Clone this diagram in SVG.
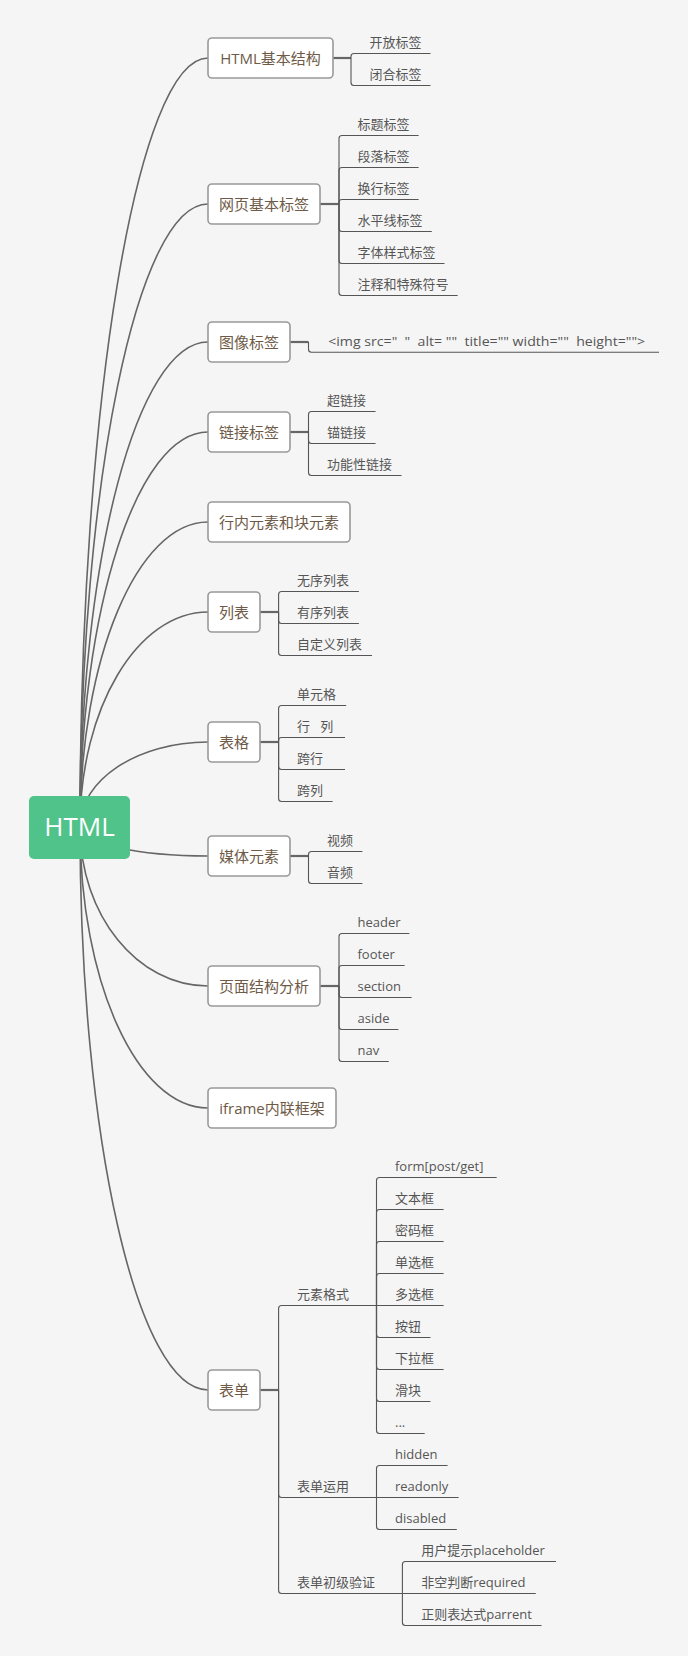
<svg xmlns="http://www.w3.org/2000/svg" width="688" height="1656" viewBox="0 0 688 1656">
<style>
.curve{fill:none;stroke:#666;stroke-width:1.6}
.stem{fill:none;stroke:#666;stroke-width:2.2}
.sub{fill:none;stroke:#555;stroke-width:1.1}
.box{fill:#fff;stroke:#999;stroke-width:1.6}
.t1{font-family:"Open Sans","Noto Sans CJK SC",sans-serif;font-size:15px;fill:#6e5a46;text-anchor:middle}
.t2{font-family:"Open Sans","Noto Sans CJK SC",sans-serif;font-size:13px;fill:#555}
.root{fill:#4fc38a}
.rt{font-family:"Open Sans","Noto Sans CJK SC",sans-serif;font-size:26px;fill:#fff;text-anchor:middle}
</style>
<rect x="0" y="0" width="688" height="1656" fill="#f5f5f5"/>
<g id="connectors">
<path class="curve" d="M80,827 C80,402.5 137.3,58 208,58"/>
<path class="curve" d="M80,827 C80,483.1 137.3,204 208,204"/>
<path class="curve" d="M80,827 C80,559.3 137.3,342 208,342"/>
<path class="curve" d="M80,827 C80,609 137.3,432 208,432"/>
<path class="curve" d="M80,827 C80,658.6 137.3,522 208,522"/>
<path class="curve" d="M80,827 C80,708.3 137.3,612 208,612"/>
<path class="curve" d="M80,827 C80,780.1 137.3,742 208,742"/>
<path class="curve" d="M80,827 C80,843 137.3,856 208,856"/>
<path class="curve" d="M80,827 C80,914.8 137.3,986 208,986"/>
<path class="curve" d="M80,827 C80,982.1 137.3,1108 208,1108"/>
<path class="curve" d="M80,827 C80,1137.8 137.3,1390 208,1390"/>
<!-- HTML基本结构 -->
<path class="stem" d="M333,58 H351"/>
<path class="sub" d="M351,58 V56.5 Q351,53.5 354,53.5 H430.5"/>
<path class="sub" d="M351,58 V82.5 Q351,85.5 354,85.5 H430.5"/>
<!-- 网页基本标签 -->
<path class="stem" d="M320,204 H339"/>
<path class="sub" d="M339,204 V138.5 Q339,135.5 342,135.5 H418.6"/>
<path class="sub" d="M339,204 V170.5 Q339,167.5 342,167.5 H418.6"/>
<path class="sub" d="M339,204 V202.5 Q339,199.5 342,199.5 H418.6"/>
<path class="sub" d="M339,204 V228.5 Q339,231.5 342,231.5 H431.8"/>
<path class="sub" d="M339,204 V260.5 Q339,263.5 342,263.5 H444.5"/>
<path class="sub" d="M339,204 V292.5 Q339,295.5 342,295.5 H457.7"/>
<!-- 图像标签 -->
<path class="stem" d="M290,342 H308.5"/>
<path class="sub" d="M308.5,342 V349.3 Q308.5,352.3 311.5,352.3 H659"/>
<!-- 链接标签 -->
<path class="stem" d="M290,432 H308.5"/>
<path class="sub" d="M308.5,432 V414.5 Q308.5,411.5 311.5,411.5 H375.6"/>
<path class="sub" d="M308.5,432 V440.5 Q308.5,443.5 311.5,443.5 H375.6"/>
<path class="sub" d="M308.5,432 V472.5 Q308.5,475.5 311.5,475.5 H401.5"/>
<!-- 列表 -->
<path class="stem" d="M260,612 H278.6"/>
<path class="sub" d="M278.6,612 V594.5 Q278.6,591.5 281.6,591.5 H358.9"/>
<path class="sub" d="M278.6,612 V620.5 Q278.6,623.5 281.6,623.5 H358.9"/>
<path class="sub" d="M278.6,612 V652.5 Q278.6,655.5 281.6,655.5 H372"/>
<!-- 表格 -->
<path class="stem" d="M260,742 H278.6"/>
<path class="sub" d="M278.6,742 V708.5 Q278.6,705.5 281.6,705.5 H346.2"/>
<path class="sub" d="M278.6,742 V740.5 Q278.6,737.5 281.6,737.5 H345"/>
<path class="sub" d="M278.6,742 V766.5 Q278.6,769.5 281.6,769.5 H345"/>
<path class="sub" d="M278.6,742 V798.5 Q278.6,801.5 281.6,801.5 H332.6"/>
<!-- 媒体元素 -->
<path class="stem" d="M290,856 H308.5"/>
<path class="sub" d="M308.5,856 V854.5 Q308.5,851.5 311.5,851.5 H362.4"/>
<path class="sub" d="M308.5,856 V880.5 Q308.5,883.5 311.5,883.5 H362.4"/>
<!-- 页面结构分析 -->
<path class="stem" d="M320,986 H339"/>
<path class="sub" d="M339,986 V936.5 Q339,933.5 342,933.5 H409.4"/>
<path class="sub" d="M339,986 V968.5 Q339,965.5 342,965.5 H404.6"/>
<path class="sub" d="M339,986 V994.5 Q339,997.5 342,997.5 H411.6"/>
<path class="sub" d="M339,986 V1026.5 Q339,1029.5 342,1029.5 H398.4"/>
<path class="sub" d="M339,986 V1058.5 Q339,1061.5 342,1061.5 H388.8"/>
<!-- 表单 -->
<path class="stem" d="M260,1390 H278.6"/>
<path class="sub" d="M278.6,1390 V1308.5 Q278.6,1305.5 281.6,1305.5 H376.5"/>
<path class="sub" d="M278.6,1390 V1494.5 Q278.6,1497.5 281.6,1497.5 H376.5"/>
<path class="sub" d="M278.6,1390 V1590.5 Q278.6,1593.5 281.6,1593.5 H402.4"/>
<!-- 元素格式 -->
<path class="sub" d="M376.5,1305.5 V1180.5 Q376.5,1177.5 379.5,1177.5 H496.7"/>
<path class="sub" d="M376.5,1305.5 V1212.5 Q376.5,1209.5 379.5,1209.5 H443.6"/>
<path class="sub" d="M376.5,1305.5 V1244.5 Q376.5,1241.5 379.5,1241.5 H443.6"/>
<path class="sub" d="M376.5,1305.5 V1276.5 Q376.5,1273.5 379.5,1273.5 H443.6"/>
<path class="sub" d="M376.5,1305.5 H443.6"/>
<path class="sub" d="M376.5,1305.5 V1334.5 Q376.5,1337.5 379.5,1337.5 H430.5"/>
<path class="sub" d="M376.5,1305.5 V1366.5 Q376.5,1369.5 379.5,1369.5 H443.6"/>
<path class="sub" d="M376.5,1305.5 V1398.5 Q376.5,1401.5 379.5,1401.5 H430.5"/>
<path class="sub" d="M376.5,1305.5 V1430.5 Q376.5,1433.5 379.5,1433.5 H424.7"/>
<!-- 表单运用 -->
<path class="sub" d="M376.5,1497.5 V1468.5 Q376.5,1465.5 379.5,1465.5 H447.6"/>
<path class="sub" d="M376.5,1497.5 H458.6"/>
<path class="sub" d="M376.5,1497.5 V1526.5 Q376.5,1529.5 379.5,1529.5 H456.8"/>
<!-- 表单初级验证 -->
<path class="sub" d="M402.4,1593.5 V1564.5 Q402.4,1561.5 405.4,1561.5 H556"/>
<path class="sub" d="M402.4,1593.5 H535.8"/>
<path class="sub" d="M402.4,1593.5 V1622.5 Q402.4,1625.5 405.4,1625.5 H541.5"/>
</g>
<g id="root"><rect class="root" x="29" y="796" width="101" height="63" rx="5"/><text class="rt" x="79.5" y="836">HTML</text></g>
<g id="n-html-structure"><rect class="box" x="208" y="38" width="125" height="40" rx="4"/><text class="t1" x="270.5" y="63.5">HTML基本结构</text></g>
<g id="n-open"><text class="t2" x="369.5" y="47">开放标签</text></g>
<g id="n-close"><text class="t2" x="369.5" y="79">闭合标签</text></g>
<g id="n-basic-tags"><rect class="box" x="208" y="184" width="112" height="40" rx="4"/><text class="t1" x="264" y="209.5">网页基本标签</text></g>
<g id="n-h"><text class="t2" x="357.5" y="129">标题标签</text></g>
<g id="n-p"><text class="t2" x="357.5" y="161">段落标签</text></g>
<g id="n-br"><text class="t2" x="357.5" y="193">换行标签</text></g>
<g id="n-hr"><text class="t2" x="357.5" y="225">水平线标签</text></g>
<g id="n-font"><text class="t2" x="357.5" y="257">字体样式标签</text></g>
<g id="n-comment"><text class="t2" x="357.5" y="289">注释和特殊符号</text></g>
<g id="n-img"><rect class="box" x="208" y="322" width="82" height="40" rx="4"/><text class="t1" x="249" y="347.5">图像标签</text></g>
<g id="n-img-code"><text class="t2" x="328.2" y="346" textLength="317" lengthAdjust="spacingAndGlyphs" xml:space="preserve" style="white-space:pre">&lt;img src="  "  alt= ""  title="" width=""  height=""&gt;</text></g>
<g id="n-link"><rect class="box" x="208" y="412" width="82" height="40" rx="4"/><text class="t1" x="249" y="437.5">链接标签</text></g>
<g id="n-a"><text class="t2" x="327" y="405">超链接</text></g>
<g id="n-anchor"><text class="t2" x="327" y="437">锚链接</text></g>
<g id="n-func"><text class="t2" x="327" y="469">功能性链接</text></g>
<g id="n-inline-block"><rect class="box" x="208" y="502" width="142" height="40" rx="4"/><text class="t1" x="279" y="527.5">行内元素和块元素</text></g>
<g id="n-list"><rect class="box" x="208" y="592" width="52" height="40" rx="4"/><text class="t1" x="234" y="617.5">列表</text></g>
<g id="n-ul"><text class="t2" x="297" y="585">无序列表</text></g>
<g id="n-ol"><text class="t2" x="297" y="617">有序列表</text></g>
<g id="n-dl"><text class="t2" x="297" y="649">自定义列表</text></g>
<g id="n-table"><rect class="box" x="208" y="722" width="52" height="40" rx="4"/><text class="t1" x="234" y="747.5">表格</text></g>
<g id="n-cell"><text class="t2" x="297" y="699">单元格</text></g>
<g id="n-rowcol"><text class="t2" x="297" y="731" xml:space="preserve" style="white-space:pre">行   列</text></g>
<g id="n-rowspan"><text class="t2" x="297" y="763">跨行</text></g>
<g id="n-colspan"><text class="t2" x="297" y="795">跨列</text></g>
<g id="n-media"><rect class="box" x="208" y="836" width="82" height="40" rx="4"/><text class="t1" x="249" y="861.5">媒体元素</text></g>
<g id="n-video"><text class="t2" x="327" y="845">视频</text></g>
<g id="n-audio"><text class="t2" x="327" y="877">音频</text></g>
<g id="n-layout"><rect class="box" x="208" y="966" width="112" height="40" rx="4"/><text class="t1" x="264" y="991.5">页面结构分析</text></g>
<g id="n-header"><text class="t2" x="357.5" y="927">header</text></g>
<g id="n-footer"><text class="t2" x="357.5" y="959">footer</text></g>
<g id="n-section"><text class="t2" x="357.5" y="991">section</text></g>
<g id="n-aside"><text class="t2" x="357.5" y="1023">aside</text></g>
<g id="n-nav"><text class="t2" x="357.5" y="1055">nav</text></g>
<g id="n-iframe"><rect class="box" x="208" y="1088" width="128" height="40" rx="4"/><text class="t1" x="272" y="1113.5">iframe内联框架</text></g>
<g id="n-form"><rect class="box" x="208" y="1370" width="52" height="40" rx="4"/><text class="t1" x="234" y="1395.5">表单</text></g>
<g id="n-elements"><text class="t2" x="297" y="1299">元素格式</text></g>
<g id="n-form-tag"><text class="t2" x="395" y="1171">form[post/get]</text></g>
<g id="n-text"><text class="t2" x="395" y="1203">文本框</text></g>
<g id="n-password"><text class="t2" x="395" y="1235">密码框</text></g>
<g id="n-radio"><text class="t2" x="395" y="1267">单选框</text></g>
<g id="n-checkbox"><text class="t2" x="395" y="1299">多选框</text></g>
<g id="n-button"><text class="t2" x="395" y="1331">按钮</text></g>
<g id="n-select"><text class="t2" x="395" y="1363">下拉框</text></g>
<g id="n-range"><text class="t2" x="395" y="1395">滑块</text></g>
<g id="n-more"><text class="t2" x="395" y="1427">...</text></g>
<g id="n-usage"><text class="t2" x="297" y="1491">表单运用</text></g>
<g id="n-hidden"><text class="t2" x="395" y="1459">hidden</text></g>
<g id="n-readonly"><text class="t2" x="395" y="1491">readonly</text></g>
<g id="n-disabled"><text class="t2" x="395" y="1523">disabled</text></g>
<g id="n-validate"><text class="t2" x="297" y="1587">表单初级验证</text></g>
<g id="n-placeholder"><text class="t2" x="421.2" y="1555">用户提示placeholder</text></g>
<g id="n-required"><text class="t2" x="421.2" y="1587">非空判断required</text></g>
<g id="n-pattern"><text class="t2" x="421.2" y="1619">正则表达式parrent</text></g>
</svg>
